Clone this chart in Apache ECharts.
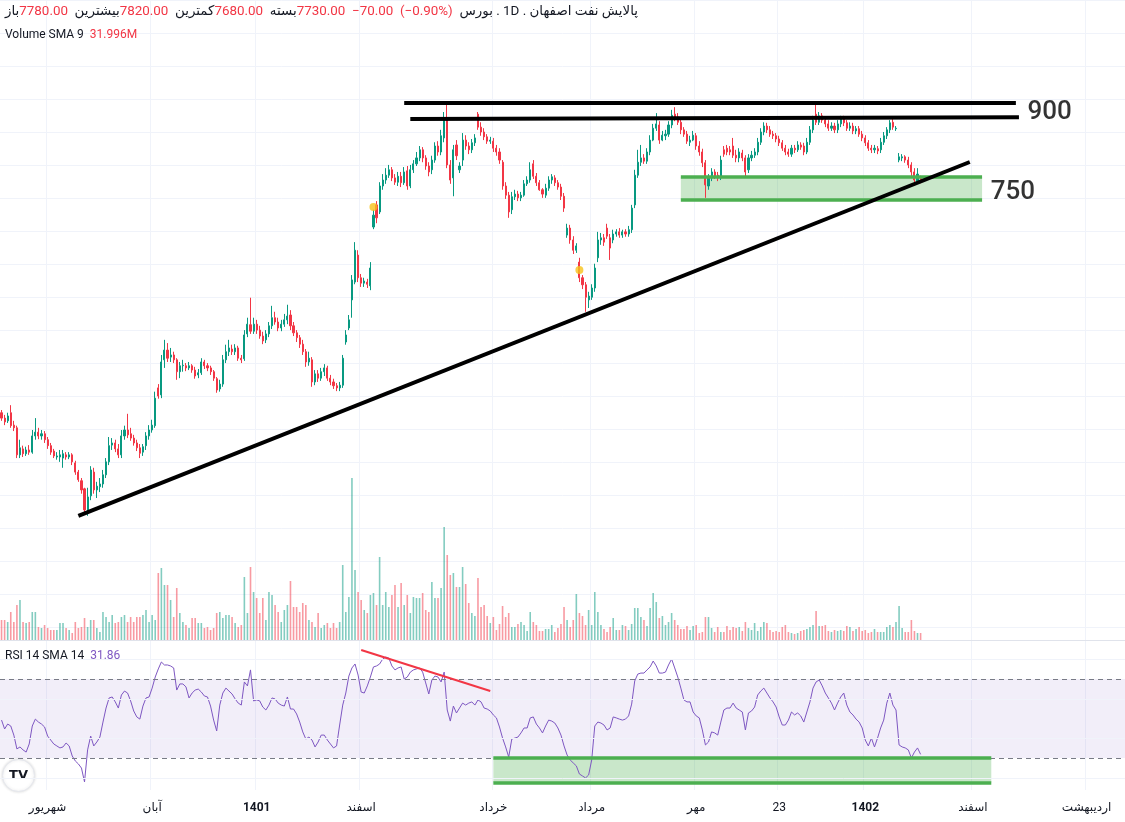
<!DOCTYPE html>
<html><head><meta charset="utf-8">
<script src="https://cdn.jsdelivr.net/npm/echarts@6/dist/echarts.min.js"></script>
<style>html,body{margin:0;padding:0;background:#fff}#c{width:1125px;height:822px}</style>
</head><body><div id="c"></div>
<script>
// ---------- data ----------
const SLOT_COUNT = 366; // time slots across the visible width (incl. empty future slots)
const categories = Array.from({length: SLOT_COUNT}, (_, i) => 'd' + i);

const opens = [
3430,3330,3280,3430,3200,3150,2650,2760,2670,2740,
2700,3000,3070,3000,3040,2930,2820,2720,2610,2610,
2590,2650,2610,2650,2500,2330,2170,2020,1630,1890,
2330,2000,2060,2110,2280,2520,2830,2870,2760,2650,
3000,3110,3040,2960,2870,2780,2700,2820,3000,3110,
3190,3890,3760,4410,4590,4460,4500,4410,4190,4300,
4300,4260,4300,4220,4130,4170,4370,4300,4260,4190,
4060,3870,3960,4410,4560,4610,4560,4630,4440,4430,
4890,5060,4940,5070,4960,4850,4780,4890,5040,5190,
5110,5000,5070,5150,5240,5040,4910,4820,4700,4560,
4370,4410,4000,4150,4070,4190,4260,4070,4000,3930,
3890,3940,4740,5000,5520,5850,6350,5930,5830,5850,
5780,6870,7280,7150,7630,7740,7830,7930,7780,7700,
7810,7690,7910,7630,7930,8040,8150,8300,8150,8000,
7930,8110,8370,8260,8520,8850,8020,7780,8390,7930,
8110,8480,8370,8300,8430,8960,8720,8630,8540,8460,
8460,8330,8260,8070,7630,7460,7190,7430,7480,7410,
7460,7670,7740,8040,7810,7690,7560,7460,7590,7740,
7780,7690,7610,7440,6720,6850,6630,6440,6220,5930,
5800,5520,5570,5740,6300,6630,6670,6850,6670,6630,
6740,6780,6720,6780,6740,6820,7280,7830,8070,8150,
8090,8260,8480,8700,8760,8480,8560,8590,8760,8960,
8910,8810,8670,8590,8440,8480,8560,8370,8260,8060,
7630,7780,7890,7830,7780,8300,8330,8300,8370,8200,
8150,8240,8150,7930,8150,8200,8260,8440,8630,8740,
8670,8590,8560,8500,8430,8330,8260,8220,8330,8300,
8390,8370,8260,8440,8670,8960,8810,8930,8850,8780,
8700,8740,8670,8780,8870,8800,8700,8740,8650,8690,
8590,8520,8430,8330,8300,8320,8300,8440,8560,8670,
8810,8690,8110,8150,8170,8110,8020,7890,7720,7780];

const closes = [
3330,3260,3370,3190,3150,2650,2780,2670,2740,2700,
3000,3070,3000,3040,2930,2820,2700,2630,2630,2650,
2670,2610,2650,2520,2330,2190,2000,1630,1870,2370,
2000,2070,2110,2280,2520,2820,2870,2760,2650,3000,
3110,3020,2960,2870,2780,2680,2800,3000,3110,3200,
3700,3740,4370,4590,4440,4500,4410,4190,4300,4310,
4260,4300,4220,4110,4170,4370,4300,4260,4190,4070,
3850,3960,4410,4560,4630,4560,4630,4440,4410,4870,
5070,4940,5070,4960,4850,4760,4890,5040,5190,5110,
5000,5070,5150,5220,5040,4910,4820,4700,4560,4370,
4440,4000,4150,4070,4190,4260,4070,4000,3930,3890,
3940,4440,4870,5150,5890,6440,5930,5830,5870,5810,
6110,7090,7040,7630,7740,7830,7930,7780,7700,7810,
7690,7890,7630,7930,8040,8150,8300,8150,8000,7890,
8110,8370,8260,8560,8890,8020,7740,8300,8190,8000,
8480,8370,8300,8430,8520,8720,8630,8540,8460,8480,
8330,8260,8110,7630,7460,7150,7430,7480,7410,7460,
7670,7740,7930,7810,7690,7560,7480,7590,7740,7800,
7690,7610,7440,7220,6850,6630,6440,6520,5930,5800,
5570,5590,5740,6110,6630,6670,6590,6700,6480,6740,
6780,6720,6780,6740,6820,7220,7830,8070,8150,8090,
8260,8480,8700,8780,8480,8570,8590,8760,8940,8890,
8810,8670,8590,8460,8480,8570,8370,8260,8060,7650,
7780,7890,7810,7780,8110,8220,8260,8260,8200,8150,
8260,8150,7890,8150,8200,8260,8440,8630,8740,8670,
8590,8560,8500,8430,8330,8260,8220,8330,8300,8390,
8350,8260,8440,8670,8850,8810,8930,8850,8780,8700,
8740,8670,8780,8870,8800,8700,8740,8650,8690,8590,
8520,8430,8330,8300,8330,8280,8440,8560,8670,8800,
8720,8700,8170,8170,8110,8020,7890,7740,7850,7730];

const lows = [
3280,3200,3240,3150,3090,2590,2590,2610,2630,2650,
2670,2930,2940,2930,2870,2760,2650,2590,2560,2520,
2410,2560,2570,2460,2280,2150,1930,1560,1520,1810,
1930,1850,1960,2040,2220,2460,2740,2700,2590,2590,
2930,2960,2910,2820,2720,2590,2630,2740,2930,3060,
3150,3690,3700,4260,4370,4370,4350,4040,4070,4190,
4200,4220,4170,4060,4070,4130,4240,4200,4130,4020,
3800,3820,3910,4350,4480,4500,4500,4390,4350,4390,
4830,4890,4890,4890,4800,4700,4720,4830,4980,5060,
4940,4940,5020,5070,4960,4850,4740,4630,4500,4280,
4300,3910,3940,4000,4020,4110,4020,3940,3870,3830,
3830,3890,4690,4960,5190,5810,5850,5760,5760,5740,
5700,6830,6940,7110,7560,7670,7780,7720,7650,7630,
7610,7650,7560,7590,7870,8000,8090,8070,7930,7810,
7850,8060,8190,8200,8440,7960,7670,7440,8110,7870,
8000,8300,8220,8240,8370,8670,8560,8480,8410,8410,
8260,8190,8040,7560,7390,7040,7110,7370,7350,7350,
7430,7630,7690,7760,7630,7540,7410,7410,7540,7670,
7630,7560,7370,7150,6670,6560,6370,6390,5850,5720,
5300,5370,5520,5670,6220,6540,6520,6650,6260,6570,
6690,6670,6670,6690,6690,6760,7220,7780,8000,8040,
8040,8200,8460,8650,8410,8460,8480,8540,8700,8830,
8760,8590,8540,8410,8370,8460,8300,8190,7980,7410,
7560,7720,7760,7720,7740,8170,8200,8200,8150,8070,
8070,8090,7810,7870,8090,8150,8200,8390,8570,8610,
8540,8500,8440,8370,8280,8200,8170,8170,8240,8260,
8300,8200,8220,8390,8610,8760,8760,8800,8720,8650,
8650,8610,8610,8720,8740,8650,8650,8590,8590,8540,
8460,8370,8280,8240,8240,8220,8240,8390,8500,8610,
8670,8650,8070,8090,8060,7960,7810,7670,7690,7680];

const highs = [
3480,3390,3430,3570,3280,3190,2930,2820,2800,2830,
3110,3330,3150,3110,3090,2980,2870,2760,2700,2740,
2740,2700,2700,2680,2540,2370,2220,2040,2040,2440,
2410,2150,2220,2370,2590,2980,2960,2930,2850,3110,
3190,3410,3150,3020,2930,2850,2850,3070,3200,3300,
3820,3960,4500,4780,4720,4630,4560,4440,4370,4410,
4350,4370,4330,4280,4240,4440,4410,4350,4300,4220,
4090,4040,4500,4690,4780,4690,4700,4670,4500,4960,
5190,5560,5190,5150,5040,4930,4960,5110,5410,5300,
5190,5150,5260,5430,5330,5110,4960,4870,4780,4610,
4560,4460,4220,4220,4260,4330,4300,4130,4060,3980,
4000,4500,4960,5240,5980,6590,6440,6000,5930,5910,
6220,7190,7350,7700,7850,7960,8020,7980,7850,7890,
7890,7980,8000,8020,8110,8260,8370,8350,8200,8070,
8190,8440,8460,8670,9000,9170,8110,8390,8480,8070,
8610,8570,8440,8500,8590,9000,8810,8700,8590,8540,
8520,8390,8330,8110,7700,7520,7520,7560,7540,7520,
7740,7810,8070,8110,7870,7740,7590,7670,7810,7850,
7830,7740,7670,7500,6930,6910,6700,6570,6300,5980,
5850,5670,5810,6190,6780,6760,6740,6930,6740,6820,
6830,6850,6820,6830,6890,7280,7930,8300,8390,8220,
8330,8570,8780,8980,8830,8650,8670,8830,9040,9090,
8980,8870,8720,8650,8560,8650,8610,8460,8320,8110,
7850,7960,7940,7890,8190,8370,8390,8370,8520,8300,
8330,8300,8200,8220,8280,8330,8520,8700,8810,8800,
8740,8650,8610,8560,8480,8390,8320,8390,8390,8460,
8440,8430,8520,8740,8930,9170,9000,8980,8910,8850,
8810,8800,8850,8930,8930,8850,8810,8800,8740,8740,
8650,8570,8480,8390,8390,8370,8520,8630,8720,8850,
8870,8740,8240,8220,8200,8170,8070,7960,7960,7820];

// volume, millions of shares
const volumes = [
60,60,54,84,54,105,120,54,51,54,
84,84,39,36,45,36,30,30,30,51,
51,36,30,21,54,36,39,66,39,60,
60,36,24,84,69,54,75,51,54,69,
75,54,69,54,69,69,75,90,54,75,
60,201,216,165,165,120,69,156,81,54,
45,36,66,66,51,51,36,39,30,36,
81,84,66,75,75,69,51,39,45,189,
81,219,144,126,81,126,60,144,135,105,
84,54,90,105,177,99,99,84,111,105,
60,54,39,81,36,45,51,36,51,36,
54,225,84,129,486,210,144,120,90,81,
135,141,105,249,105,144,99,135,165,99,
171,105,135,81,129,126,126,141,90,84,
174,126,126,156,339,255,195,201,159,159,
219,168,111,81,72,186,99,105,72,51,
69,30,48,102,69,81,39,39,48,54,
45,27,84,54,45,27,27,33,33,45,
24,36,48,99,60,39,60,138,81,72,
45,90,45,144,84,45,33,24,39,66,
30,30,45,42,30,48,96,96,69,60,
42,96,141,114,66,72,45,54,81,60,
45,33,33,42,30,42,45,21,24,69,
69,36,24,39,24,24,42,30,39,36,
39,27,54,36,30,51,27,39,54,51,
30,24,27,24,39,45,24,21,18,21,
27,30,33,39,45,87,42,42,45,27,
24,30,27,30,27,42,39,27,33,39,
27,30,21,24,33,24,24,24,39,45,
39,54,102,36,24,24,60,27,21,21];

const rsiValues = [
49.2,44.7,47.2,46.2,41.6,34.6,35.6,34.1,33.0,37.1,
46.2,49.7,48.2,47.2,45.7,41.1,39.1,37.1,36.1,35.1,
35.6,37.6,36.1,31.0,28.5,27.0,24.9,17.9,34.1,41.1,
36.1,38.1,40.6,48.2,55.3,60.4,60.9,58.4,55.3,61.9,
63.9,62.9,58.9,53.8,50.8,49.7,56.3,60.4,60.9,65.4,
71.0,75.1,78.6,77.1,77.1,76.6,75.6,64.4,67.5,67.5,
66.0,60.4,62.9,64.4,64.9,63.4,61.4,60.9,56.3,49.2,
43.7,56.8,62.9,65.4,63.9,62.4,59.9,57.8,56.8,68.5,
66.5,74.6,58.9,59.4,58.9,55.8,54.3,56.8,60.4,59.9,
57.8,56.8,56.3,60.9,54.8,54.8,52.3,48.2,43.2,39.6,
40.6,39.1,35.6,38.1,41.6,41.6,39.1,37.1,35.1,36.1,
46.7,56.8,62.9,71.5,75.6,77.6,72.0,63.4,62.9,66.5,
71.0,76.1,76.6,77.6,80.1,81.1,80.6,76.6,74.6,75.6,
76.1,70.0,71.0,73.5,74.6,75.1,75.6,73.5,68.0,62.4,
69.5,71.5,71.0,68.5,73.5,54.3,48.7,56.3,52.8,55.3,
57.8,56.8,57.8,58.4,56.8,59.4,58.4,55.3,54.8,53.8,
51.8,50.3,45.7,40.1,35.6,30.5,39.6,40.1,40.6,42.7,
45.2,45.2,50.3,50.8,47.2,45.2,42.7,46.2,49.2,48.7,
47.7,45.2,41.6,36.1,31.5,29.0,27.5,26.0,21.9,20.9,
19.9,21.4,29.0,46.2,48.2,47.7,46.7,44.2,45.2,50.8,
50.3,49.7,49.2,49.7,51.3,57.3,69.0,72.5,73.0,73.0,
74.6,76.1,79.1,76.6,73.0,73.0,73.5,77.1,80.1,75.6,
71.0,65.4,59.4,58.4,58.4,53.3,51.3,50.3,44.2,36.6,
38.1,43.2,42.7,41.6,48.2,54.3,55.3,55.3,57.8,55.3,
54.3,53.3,44.2,52.8,53.8,55.8,61.9,63.9,65.4,62.9,
60.4,58.4,55.8,50.8,46.7,46.7,49.2,53.3,51.8,52.8,
51.3,48.2,53.3,58.4,65.4,68.5,69.5,66.5,62.9,60.4,
57.8,54.3,57.8,60.9,62.9,56.8,53.3,51.8,49.7,48.2,
45.2,39.1,36.1,40.1,35.6,40.1,45.2,49.2,57.8,62.9,
56.8,54.3,36.6,35.6,35.1,34.1,30.0,33.0,35.1,31.86];

// time axis ticks (slot index -> label)
const tickIndex  = [15, 49, 83, 117, 160, 192, 226, 253, 281, 316, 353];
const tickLabels = ['شهریور','آبان','1401','اسفند','خرداد','مرداد','مهر','23','1402','اسفند','اردیبهشت'];
const boldTicks  = ['1401','1402'];

// drawings (slot index, price)
const resistanceLines = [[131, 9170, 330, 9170], [133, 8870, 331, 8905]];
const trendLine = [25, 1518, 315, 8074];
const supportZone = [221, 7796, 319, 7370];
const levelNotes = [[341, 9000, '900'], [329, 7500, '750']];
const eventDots = [[121, 7240], [188, 6074]];
// RSI drawings (slot index, RSI)
const rsiDownLine = [117, 84.7, 159, 63.9];
const rsiZone = [160, 30, 322, 17.6];
const rsiBands = {upper: 70, lower: 30, grid: [20, 40, 60, 80]};

// ---------- chart ----------
const UP = '#089981', DOWN = '#f23645';
const FONT = 'Roboto, "DejaVu Sans", sans-serif';
const LRM = '\u200E';
const candleData = opens.map((o, i) => [o, closes[i], lows[i], highs[i]]);
const volumeData = volumes.map((v, i) => ({
  value: v,
  itemStyle: {color: closes[i] >= opens[i] ? 'rgba(8,153,129,0.5)' : 'rgba(242,54,69,0.5)'}
}));
const tickSet = new Set(tickIndex);
const labelMap = {};
tickIndex.forEach((t, k) => labelMap[t] = tickLabels[k]);
const GRIDC = '#f0f3fa';

function xAxisFor(gi) {
  return {
    type: 'category', gridIndex: gi, data: categories, boundaryGap: true,
    axisLine: {show: false}, axisTick: {show: false},
    axisLabel: gi === 2 ? {
      show: true, interval: (i) => tickSet.has(i), margin: 12,
      color: '#131722', fontSize: 12, fontFamily: FONT, fontWeight: 'normal',
      formatter: (v, i) => {
        const t = labelMap[i] || '';
        return boldTicks.includes(t) ? '{b|' + t + '}' : t;
      },
      rich: {b: {fontWeight: 'bold', fontSize: 12, color: '#131722', fontFamily: FONT}}
    } : {show: false},
    splitLine: {show: gi !== 1, interval: (i) => tickSet.has(i), lineStyle: {color: GRIDC, width: 1}}
  };
}

const segLine = (a, color, width) => [
  {coord: [a[0], a[1]], lineStyle: {color, width, type: 'solid'}},
  {coord: [a[2], a[3]]}
];
const zoneEdges = (z, color, width) => [
  segLine([z[0], z[1], z[2], z[1]], color, width),
  segLine([z[0], z[3], z[2], z[3]], color, width)
];
const richBase = (size) => ({
  l: {color: '#131722', fontSize: size, fontFamily: FONT, fontWeight: 'normal'},
  v: {color: '#f23645', fontSize: size, fontFamily: FONT, fontWeight: 'normal'},
  p: {color: '#7e57c2', fontSize: size, fontFamily: FONT, fontWeight: 'normal'}
});

const headerText =
  '{l|باز' + LRM + '}{v|7780.00' + LRM + '}' +
  '{l|  بیشترین' + LRM + '}{v|7820.00' + LRM + '}' +
  '{l|  کمترین' + LRM + '}{v|7680.00' + LRM + '}' +
  '{l|  بسته' + LRM + '}{v|7730.00  −70.00  (−0.90%)' + LRM + '}' +
  '{l|  بورس' + LRM + ' . 1D . ' + LRM + 'پالایش نفت اصفهان' + LRM + '}';

const option = {
  animation: false,
  backgroundColor: '#ffffff',
  title: [
    {left: 5, top: 5, padding: 0, text: headerText,
      textStyle: {fontWeight: 'normal', fontSize: 13.4, rich: richBase(13.4)}},
    {left: 5, top: 29, padding: 0, text: '{l|Volume SMA 9}{v|  31.996M}',
      textStyle: {fontWeight: 'normal', fontSize: 12, rich: richBase(12)}},
    {left: 5, top: 650, padding: 0, text: '{l|RSI 14 SMA 14}{p|  31.86}',
      textStyle: {fontWeight: 'normal', fontSize: 12, rich: richBase(12)}}
  ],
  grid: [
    {left: 0, right: 0, top: 0, height: 640, outerBoundsMode: 'none'},
    {left: 0, right: 0, top: 440, height: 200, outerBoundsMode: 'none'},
    {left: 0, right: 0, top: 641, height: 149, outerBoundsMode: 'none'}
  ],
  xAxis: [xAxisFor(0), xAxisFor(1), xAxisFor(2)],
  yAxis: [
    {gridIndex: 0, type: 'value', min: -780, max: 11075, show: false},
    {gridIndex: 0, type: 'value', min: 0, max: 640, inverse: true, interval: 33,
      axisLabel: {show: false}, axisLine: {show: false}, axisTick: {show: false},
      splitLine: {show: true, lineStyle: {color: GRIDC}}},
    {gridIndex: 1, type: 'value', min: 0, max: 600, show: false},
    {gridIndex: 2, type: 'value', min: 13.8, max: 89.24, show: false}
  ],
  graphic: [
    {type: 'line', shape: {x1: 0, y1: 640.5, x2: 1125, y2: 640.5}, style: {stroke: '#e0e3eb', lineWidth: 1}, z: 50},
    {type: 'group', left: 2, top: 759, z: 100, children: [
      {type: 'circle', shape: {cx: 17, cy: 17, r: 16}, style: {fill: '#fff', stroke: '#e6e8ee', lineWidth: 1, shadowBlur: 3, shadowColor: 'rgba(0,0,0,0.15)'}},
      {type: 'text', x: 17, y: 17, style: {text: 'TV', fill: '#131722', font: 'bold 13px "DejaVu Sans"', align: 'center', verticalAlign: 'middle'}}
    ]}
  ],
  series: [
    {
      name: 'volume', type: 'bar', xAxisIndex: 1, yAxisIndex: 2, data: volumeData,
      barWidth: 1.6, silent: true, z: 1
    },
    {
      name: 'price', type: 'candlestick', xAxisIndex: 0, yAxisIndex: 0, data: candleData,
      barWidth: 1.6, z: 3,
      itemStyle: {color: UP, color0: DOWN, borderColor: UP, borderColor0: DOWN, borderWidth: 1}
    },
    {
      name: 'zones', type: 'line', xAxisIndex: 0, yAxisIndex: 0, data: [], z: 2, silent: true,
      markArea: {silent: true, itemStyle: {color: 'rgba(76,175,80,0.3)', borderWidth: 0},
        data: [[{coord: [supportZone[0], supportZone[1]]}, {coord: [supportZone[2], supportZone[3]]}]]},
      markLine: {silent: true, symbol: ['none', 'none'], label: {show: false},
        data: zoneEdges(supportZone, '#4caf50', 3.5)}
    },
    {
      name: 'drawings', type: 'line', xAxisIndex: 0, yAxisIndex: 0, data: [], z: 5, silent: true,
      markLine: {silent: true, symbol: ['none', 'none'], label: {show: false},
        data: [segLine(resistanceLines[0], '#000', 4), segLine(resistanceLines[1], '#000', 4), segLine(trendLine, '#000', 4)]}
    },
    {
      name: 'events', type: 'scatter', xAxisIndex: 0, yAxisIndex: 0, data: eventDots,
      symbolSize: 8, itemStyle: {color: '#f7c31a'}, z: 6, silent: true
    },
    {
      name: 'notes', type: 'scatter', xAxisIndex: 0, yAxisIndex: 0, data: levelNotes,
      symbolSize: 0.1, itemStyle: {color: 'transparent'}, z: 6, silent: true,
      label: {show: true, position: 'inside', formatter: (p) => p.value[2],
        color: '#000', fontSize: 26, fontWeight: 500, fontFamily: 'Roboto, "Liberation Sans", sans-serif'}
    },
    {
      name: 'rsiZones', type: 'line', xAxisIndex: 2, yAxisIndex: 3, data: [], z: 2, silent: true,
      markArea: {silent: true,
        data: [
          [{yAxis: rsiBands.upper, itemStyle: {color: 'rgba(126,87,194,0.1)'}}, {yAxis: rsiBands.lower}],
          [{coord: [rsiZone[0], rsiZone[1]], itemStyle: {color: 'rgba(76,175,80,0.3)'}}, {coord: [rsiZone[2], rsiZone[3]]}]
        ]},
      markLine: {silent: true, symbol: ['none', 'none'], label: {show: false},
        data: rsiBands.grid.map(v => ({yAxis: v, lineStyle: {color: GRIDC, width: 1, type: 'solid'}}))
          .concat([
            {yAxis: rsiBands.upper, lineStyle: {color: '#787b86', width: 1, type: [5, 4]}},
            {yAxis: rsiBands.lower, lineStyle: {color: '#787b86', width: 1, type: [5, 4]}}
          ])}
    },
    {
      name: 'rsiDrawings', type: 'line', xAxisIndex: 2, yAxisIndex: 3, data: [], z: 3, silent: true,
      markLine: {silent: true, symbol: ['none', 'none'], label: {show: false},
        data: zoneEdges(rsiZone, '#4caf50', 3.5).concat([segLine(rsiDownLine, '#f23645', 2)])}
    },
    {
      name: 'RSI', type: 'line', xAxisIndex: 2, yAxisIndex: 3, data: rsiValues,
      showSymbol: false, symbol: 'none', z: 4, silent: true,
      lineStyle: {color: '#7e57c2', width: 1}
    }
  ]
};

const chart = echarts.init(document.getElementById('c'), null, {renderer: 'canvas'});
chart.setOption(option);
</script>
</body></html>
